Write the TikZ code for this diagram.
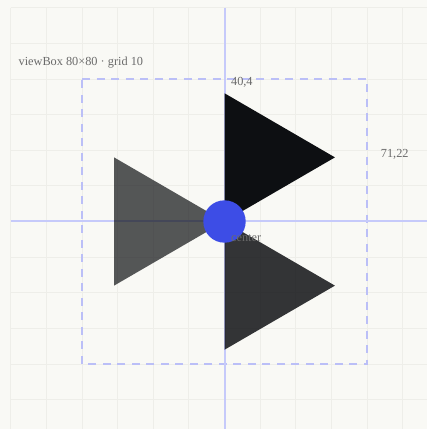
\documentclass[tikz,border=0pt]{standalone}
\usepackage{fontspec}
\setmainfont{Liberation Serif}
\definecolor{bgc}{HTML}{F9F9F5}
\definecolor{gridc}{HTML}{EEEEE9}
\definecolor{axisc}{HTML}{C6CAFA}
\definecolor{boxc}{HTML}{BBBFF7}
\definecolor{ink}{HTML}{0B0D10}
\definecolor{dotc}{HTML}{3D4DE6}
\definecolor{labelc}{HTML}{6A6A6A}
\tikzset{
  gridline/.style={draw=gridc, line width=1pt},
  axisline/.style={draw=axisc, line width=2pt},
  vbox/.style={draw=boxc, line width=2pt, dash pattern=on 8pt off 6.5pt},
  tri/.style={fill=ink, draw=none},
  lbl/.style={text=labelc, font=\fontsize{12.3}{14}\selectfont, inner sep=0pt, anchor=base west},
}
\begin{document}
\begin{tikzpicture}[x=3.5625pt, y=-3.5625pt]
  % page: 427x429 px, origin of viewBox at pixel (82,79)
  \path[fill=bgc] (-23.018,-22.175) rectangle (96.842,98.246);
  \useasboundingbox (-23.018,-22.175) rectangle (96.842,98.246);
  % grid
  \foreach \k in {-20,-10,...,90} {
    \draw[gridline] (\k,-20) -- (\k,98.246);
    \draw[gridline] (-20,\k) -- (96.842,\k);
  }
  % viewBox frame
  \draw[vbox] (0,0) -- (80,0) -- (80,80) -- (0,80) -- cycle;
  % axes
  \draw[axisline] (40.14,-20) -- (40.14,98.246);
  \draw[axisline] (-20,39.86) -- (96.842,39.86);
  % triangles
  \fill[tri, fill opacity=0.99] (40,4) -- (71,22) -- (40,40) -- cycle;
  \fill[tri, fill opacity=0.83] (40,40) -- (71,58) -- (40,76) -- cycle;
  \fill[tri, fill opacity=0.69] (9,22) -- (40,40) -- (9,58) -- cycle;
  % center dot
  \node[circle, fill=dotc, minimum size=42.4pt, inner sep=0pt] (c) at (40,40) {};
  % labels
  \node[lbl] (t) at (-17.85,-3.93) {viewBox 80×80 · grid 10};
  \node[lbl] (p1) at (41.8,1.9) {40,4};
  \node[lbl] (p2) at (83.85,22) {71,22};
  \node[lbl] (cl) at (41.8,45.7) {center};
\end{tikzpicture}
\end{document}
